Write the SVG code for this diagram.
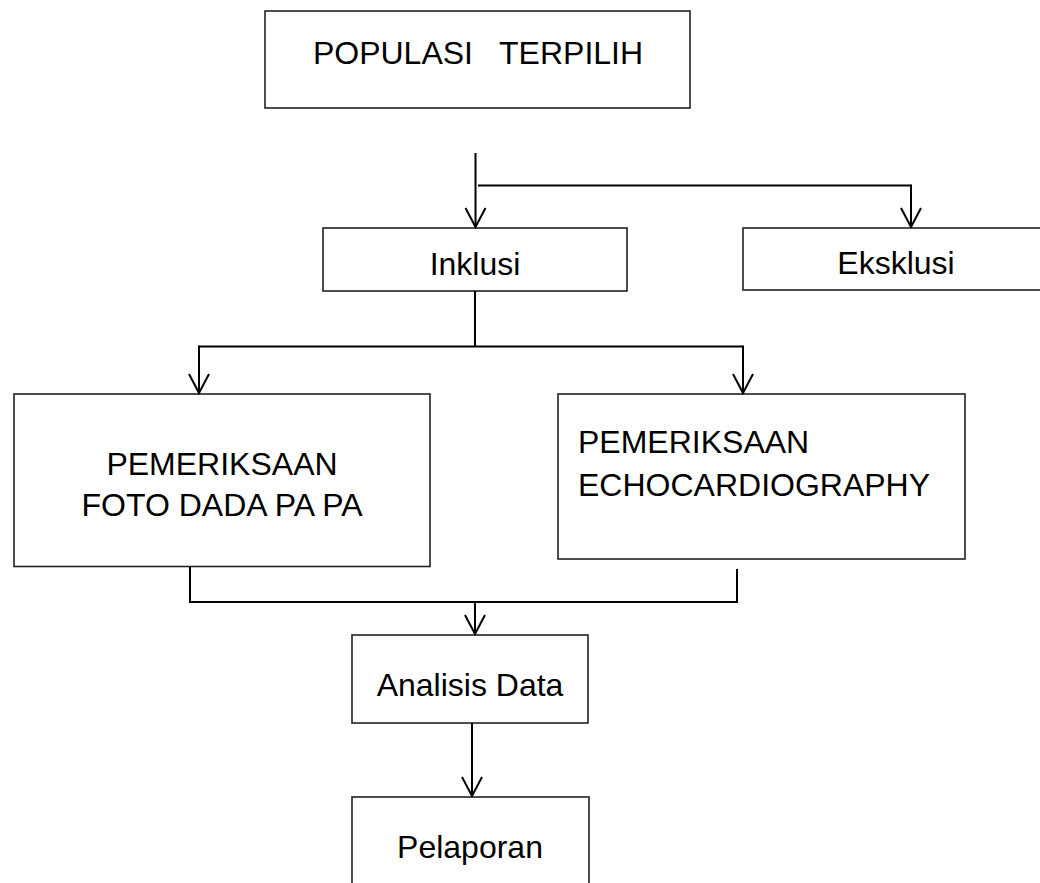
<svg xmlns="http://www.w3.org/2000/svg" width="1040" height="883" viewBox="0 0 1040 883">
<style>
  .box { fill: #ffffff; stroke: #222222; stroke-width: 1.6; }
  .lbl { font-family: "Liberation Sans", Arial, sans-serif; font-size: 32px; fill: #000000; }
  .mid { text-anchor: middle; }
  .conn line { stroke: #000000; stroke-width: 2; fill: none; }
</style>
<defs>
  <marker id="arr" viewBox="-22 -12 24 24" refX="0" refY="0" markerWidth="24" markerHeight="24" markerUnits="userSpaceOnUse" orient="auto">
    <path d="M-19,-10 L0,0 L-19,10" fill="none" stroke="#000000" stroke-width="2"/>
  </marker>
</defs>
<rect width="1040" height="883" fill="#ffffff"/>

<g id="populasi">
  <rect class="box" x="265" y="11" width="425" height="97"/>
  <text class="lbl mid" x="478" y="64" xml:space="preserve">POPULASI   TERPILIH</text>
</g>

<g id="inklusi">
  <rect class="box" x="323" y="228" width="304" height="63"/>
  <text class="lbl mid" x="475" y="275">Inklusi</text>
</g>

<g id="eksklusi">
  <rect class="box" x="743" y="228" width="305" height="62"/>
  <text class="lbl mid" x="896" y="274">Eksklusi</text>
</g>

<g id="foto">
  <rect class="box" x="14" y="394" width="416" height="172.5"/>
  <text class="lbl mid" x="222" y="475">PEMERIKSAAN</text>
  <text class="lbl mid" x="222" y="516">FOTO DADA PA PA</text>
</g>

<g id="echo">
  <rect class="box" x="558" y="394" width="407" height="165"/>
  <text class="lbl" x="578" y="453">PEMERIKSAAN</text>
  <text class="lbl" x="578" y="496">ECHOCARDIOGRAPHY</text>
</g>

<g id="analisis">
  <rect class="box" x="352" y="635" width="236" height="88"/>
  <text class="lbl mid" x="470" y="696">Analisis Data</text>
</g>

<g id="pelaporan">
  <rect class="box" x="352" y="797" width="237" height="100"/>
  <text class="lbl mid" x="470" y="858">Pelaporan</text>
</g>

<g id="connectors" class="conn">
  <line x1="475.5" y1="153" x2="475.5" y2="227" marker-end="url(#arr)"/>
  <line x1="478" y1="185.5" x2="911" y2="185.5"/>
  <line x1="911" y1="184.5" x2="911" y2="227" marker-end="url(#arr)"/>

  <line x1="475" y1="291" x2="475" y2="346.5"/>
  <line x1="199" y1="346.5" x2="743" y2="346.5"/>
  <line x1="199" y1="345.5" x2="199" y2="393" marker-end="url(#arr)"/>
  <line x1="743" y1="345.5" x2="743" y2="393" marker-end="url(#arr)"/>

  <line x1="190" y1="567" x2="190" y2="603"/>
  <line x1="737" y1="569" x2="737" y2="603"/>
  <line x1="189" y1="602" x2="738" y2="602"/>
  <line x1="475" y1="602" x2="475" y2="634" marker-end="url(#arr)"/>

  <line x1="472" y1="723" x2="472" y2="796" marker-end="url(#arr)"/>
</g>
</svg>
